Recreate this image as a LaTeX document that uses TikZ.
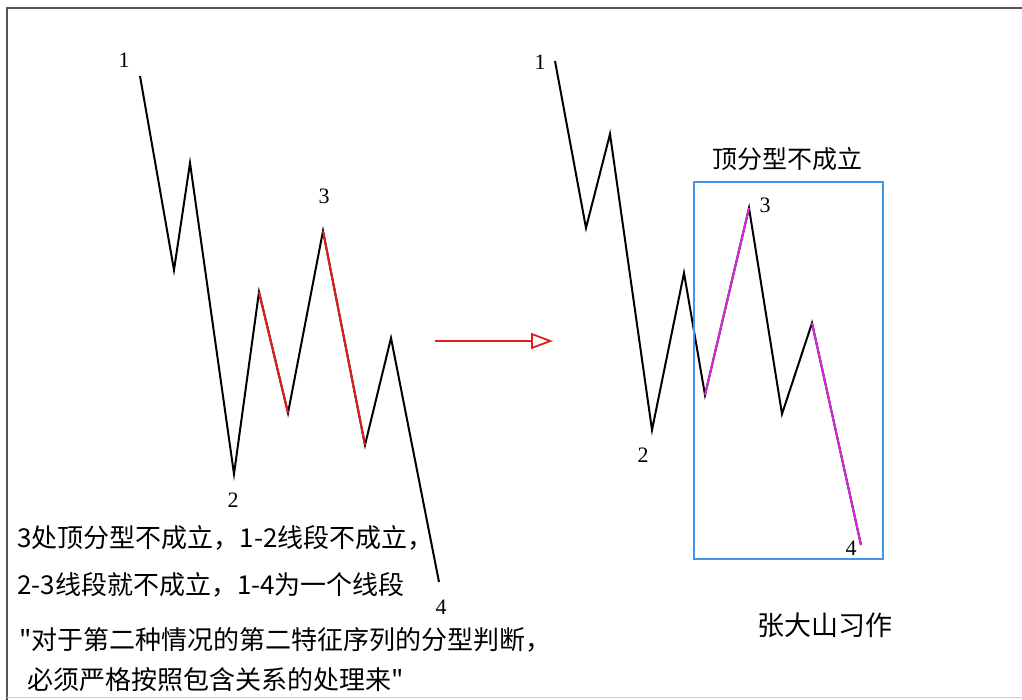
\documentclass[tikz,border=0pt]{standalone}
\usepackage{fontspec}
\setmainfont{Liberation Serif}
\newfontfamily\cjkfont{Noto Sans CJK SC}
\usetikzlibrary{arrows.meta}

\begin{document}
\begin{tikzpicture}[x=1pt,y=-1pt,
  wave/.style={line width=2pt,black,line join=miter},
  ptlabel/.style={font=\fontsize{22}{22}\selectfont,inner sep=0pt},
  note/.style={font=\cjkfont\fontsize{26}{28}\selectfont,anchor=west,inner sep=0pt}]
\definecolor{framegray}{RGB}{85,85,85}
\definecolor{fallred}{RGB}{225,30,30}
\definecolor{segpink}{RGB}{215,40,215}
\definecolor{boxblue}{RGB}{65,150,230}
\useasboundingbox (0,0) rectangle (1022,700);

% Outer frame, open on the right.
\draw[framegray,line width=2.5pt] (1022,8) -- (7,8) -- (7,700);
\draw[black!20,line width=1pt] (7,697) -- (1022,697);

% Left wave: points 1 to 4.
\coordinate (l0) at (140,76);
\coordinate (l1) at (174,270);
\coordinate (l2) at (190,163);
\coordinate (l3) at (234,474);
\coordinate (l4) at (259,292);
\coordinate (l5) at (288,413);
\coordinate (l6) at (323,231);
\coordinate (l7) at (365,445);
\coordinate (l8) at (391,338);
\coordinate (l9) at (439,582);
\draw[wave] (l0) -- (l1) -- (l2) -- (l3) -- (l4) -- (l5) -- (l6) -- (l7)
  -- (l8) -- (l9);
\draw[wave,fallred] (l4) -- (l5);
\draw[wave,fallred] (l6) -- (l7);
\node[ptlabel] (l0lab) at (124,60) {1};
\node[ptlabel] (l3lab) at (233,500) {2};
\node[ptlabel] (l6lab) at (324,196) {3};
\node[ptlabel] (l9lab) at (441,607) {4};

% Transition arrow.
\coordinate (arrtail) at (435,341);
\coordinate (arrhead) at (553,341);
\draw[fallred,line width=1.8pt,-{Triangle[open,length=22pt,width=16pt]}]
  (arrtail) -- (arrhead);

% Right wave: the same moves, last part boxed.
\coordinate (r0) at (555,61);
\coordinate (r1) at (586,228);
\coordinate (r2) at (610,134);
\coordinate (r3) at (652,430);
\coordinate (r4) at (684,273);
\coordinate (r5) at (705,395);
\coordinate (r6) at (749,208);
\coordinate (r7) at (782,414);
\coordinate (r8) at (812,323);
\coordinate (r9) at (861,545);
\draw[wave] (r0) -- (r1) -- (r2) -- (r3) -- (r4) -- (r5) -- (r6) -- (r7)
  -- (r8) -- (r9);
\draw[wave,segpink] (r5) -- (r6);
\draw[wave,segpink] (r8) -- (r9);
\node[ptlabel] (r0lab) at (540,62) {1};
\node[ptlabel] (r3lab) at (643,455) {2};
\node[ptlabel] (r6lab) at (765,205) {3};
\node[ptlabel] (r9lab) at (851,548) {4};

% Box round the failed top fractal.
\coordinate (boxnw) at (694,182);
\coordinate (boxse) at (883,559);
\draw[boxblue,line width=1.8pt] (boxnw) rectangle (boxse);
\node[font=\cjkfont\fontsize{25}{25}\selectfont,inner sep=0pt] (boxtitle)
  at (787,159) {顶分型不成立};
\node[font=\cjkfont\fontsize{27}{27}\selectfont,inner sep=0pt] (sign)
  at (825,625) {张大山习作};

% Notes under the left wave.
\node[note] (note1) at (17,538) {3处顶分型不成立，1-2线段不成立，};
\node[note] (note2) at (17,585) {2-3线段就不成立，1-4为一个线段};
\node[note] (note3) at (19,640) {"对于第二种情况的第二特征序列的分型判断，};
\node[note] (note4) at (27,680) {必须严格按照包含关系的处理来"};
\end{tikzpicture}
\end{document}
